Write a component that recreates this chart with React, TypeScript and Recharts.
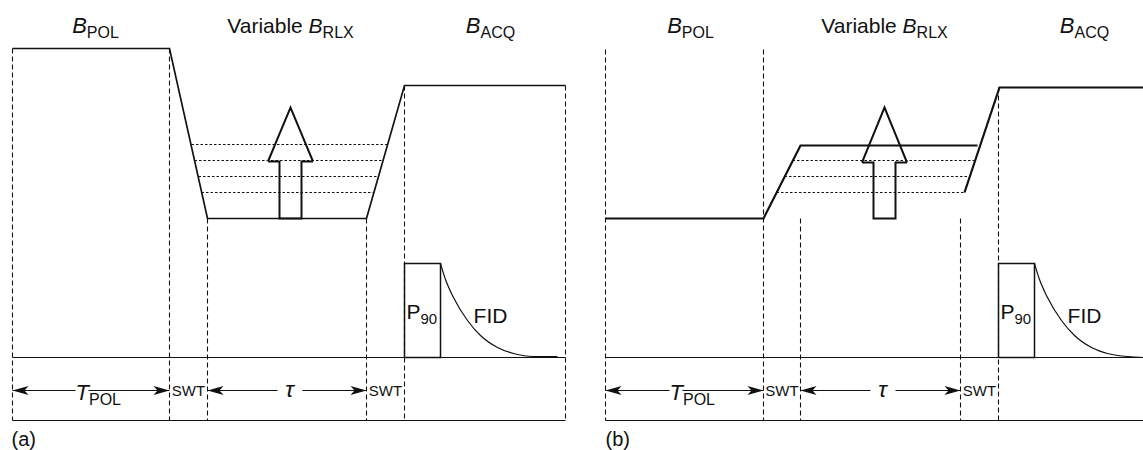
import React from "react";
import { ComposedChart, Line, Area, Scatter, XAxis, YAxis } from "recharts";

// time axis runs left to right, level axis runs top to bottom (reversed)
const W = 1143;
const H = 450;

// field waveform, panel (a)
const fieldA = [
    { x: 12, y: 48 },
    { x: 169, y: 48 },
    { x: 207, y: 218 },
    { x: 366, y: 218 },
    { x: 404, y: 85 },
    { x: 565, y: 85 },
];
// field waveform, panel (b): rise to the top relaxation level, then the ramp to B_ACQ
const fieldB1 = [
    { x: 605, y: 218 },
    { x: 763, y: 218 },
    { x: 800, y: 145 },
    { x: 977, y: 145 },
];
const fieldB2 = [
    { x: 964, y: 192 },
    { x: 999, y: 87 },
    { x: 1143, y: 87 },
];

// intermediate (dotted) relaxation levels
const dottedA = [
    { y: 144, from: 191, to: 387 },
    { y: 160, from: 194, to: 383 },
    { y: 176, from: 198, to: 378 },
    { y: 192, from: 201, to: 373 },
];
const dottedB = [
    { y: 160, from: 792, to: 974 },
    { y: 176, from: 784, to: 969 },
    { y: 192, from: 776, to: 964 },
];

// dashed timing markers
const dashedA = [
    { x: 12, top: 48 },
    { x: 169, top: 48 },
    { x: 207, top: 218 },
    { x: 366, top: 218 },
    { x: 404, top: 85 },
    { x: 565, top: 85 },
];
const dashedB = [
    { x: 605, top: 49 },
    { x: 763, top: 49 },
    { x: 800, top: 218 },
    { x: 960, top: 218 },
    { x: 998, top: 87 },
];
const dashBottom = 420;

// baseline / bottom rule spans
const spans = [
    { from: 12, to: 565 },
    { from: 605, to: 1143 },
];
const baselineY = 357;
const bottomY = 420;

// P90 pulses
const pulses = [
    { from: 404, to: 440, top: 263 },
    { from: 998, to: 1034, top: 263 },
];

// FID decays
const fidA = [
    { x: 440, y: 263 }, { x: 445, y: 279 }, { x: 453, y: 297 }, { x: 467, y: 320 },
    { x: 480, y: 335 }, { x: 497, y: 347 }, { x: 513, y: 353 }, { x: 533, y: 356 }, { x: 557, y: 356 },
];
const fidB = [
    { x: 1034, y: 263 }, { x: 1039, y: 279 }, { x: 1047, y: 297 }, { x: 1061, y: 320 },
    { x: 1074, y: 335 }, { x: 1091, y: 347 }, { x: 1107, y: 353 }, { x: 1127, y: 356 }, { x: 1143, y: 357 },
];

// big hollow "variable" arrows
const bigArrows = [
    { tipX: 290, tipY: 107, headBase: 161, headHalf: 22.5, shaftHalf: 11, bottom: 218 },
    { tipX: 884, tipY: 107, headBase: 162, headHalf: 22.5, shaftHalf: 11, bottom: 218 },
];

// interval arrows on the timing row
const rowY = 390;
const intervalLines = [
    { from: 12, to: 75 }, { from: 88, to: 169 },
    { from: 207, to: 277 }, { from: 302, to: 366 },
    { from: 605, to: 669 }, { from: 682, to: 763 },
    { from: 800, to: 870 }, { from: 895, to: 960 },
];
const arrowHeads = [
    { x: 12, y: rowY, dir: -1 }, { x: 169, y: rowY, dir: 1 },
    { x: 207, y: rowY, dir: -1 }, { x: 366, y: rowY, dir: 1 },
    { x: 605, y: rowY, dir: -1 }, { x: 763, y: rowY, dir: 1 },
    { x: 800, y: rowY, dir: -1 }, { x: 960, y: rowY, dir: 1 },
];

// text labels
const labels = [
    { x: 95, y: 32, main: "B", sub: "POL", italic: true, size: 22, subSize: 16, anchor: "middle" },
    { x: 290, y: 32, pre: "Variable ", main: "B", sub: "RLX", italic: true, size: 21, subSize: 16, anchor: "middle" },
    { x: 490, y: 32, main: "B", sub: "ACQ", italic: true, size: 22, subSize: 16, anchor: "middle" },
    { x: 690, y: 32, main: "B", sub: "POL", italic: true, size: 22, subSize: 16, anchor: "middle" },
    { x: 884, y: 32, pre: "Variable ", main: "B", sub: "RLX", italic: true, size: 21, subSize: 16, anchor: "middle" },
    { x: 1084, y: 32, main: "B", sub: "ACQ", italic: true, size: 22, subSize: 16, anchor: "middle" },
    { x: 75, y: 399, main: "T", sub: "POL", italic: true, size: 22, subSize: 16, anchor: "start" },
    { x: 669, y: 399, main: "T", sub: "POL", italic: true, size: 22, subSize: 16, anchor: "start" },
    { x: 289, y: 396, main: "τ", italic: true, size: 23, anchor: "middle" },
    { x: 882, y: 396, main: "τ", italic: true, size: 23, anchor: "middle" },
    { x: 188, y: 395, main: "SWT", size: 15, anchor: "middle" },
    { x: 385, y: 395, main: "SWT", size: 15, anchor: "middle" },
    { x: 781.5, y: 395, main: "SWT", size: 15, anchor: "middle" },
    { x: 979, y: 395, main: "SWT", size: 15, anchor: "middle" },
    { x: 406, y: 318, main: "P", sub: "90", size: 21, subSize: 15, anchor: "start" },
    { x: 1000, y: 318, main: "P", sub: "90", size: 21, subSize: 15, anchor: "start" },
    { x: 490, y: 322, main: "FID", size: 21, anchor: "middle" },
    { x: 1084, y: 322, main: "FID", size: 21, anchor: "middle" },
    { x: 11, y: 445, main: "(a)", size: 20, anchor: "start" },
    { x: 605, y: 445, main: "(b)", size: 20, anchor: "start" },
];

const INK = "#111111";
const FONT = "'Liberation Sans', Arial, Helvetica, sans-serif";

function arrowPoly(a: typeof bigArrows[number]) {
    const slope = (a.headBase - a.tipY) / a.headHalf;
    const yS = a.tipY + slope * a.shaftHalf;
    return [
        { x: a.tipX - a.headHalf, v: [a.headBase, a.headBase] },
        { x: a.tipX - a.shaftHalf, v: [a.headBase, yS] },
        { x: a.tipX - a.shaftHalf, v: [a.bottom, yS] },
        { x: a.tipX, v: [a.bottom, a.tipY] },
        { x: a.tipX + a.shaftHalf, v: [a.bottom, yS] },
        { x: a.tipX + a.shaftHalf, v: [a.headBase, yS] },
        { x: a.tipX + a.headHalf, v: [a.headBase, a.headBase] },
    ];
}

const HeadShape = (props: any) => {
    const { cx, cy, payload } = props;
    const d = payload.dir;
    const path = `M${cx},${cy} L${cx - d * 16},${cy - 4.5} L${cx - d * 12},${cy} L${cx - d * 16},${cy + 4.5} Z`;
    return <path d={path} fill={INK} stroke="none" />;
};

const LabelShape = (props: any) => {
    const { cx, cy, payload } = props;
    return (
        <text x={cx} y={cy} textAnchor={payload.anchor} fontFamily={FONT} fontSize={payload.size} fill={INK}>
            {payload.pre && <tspan>{payload.pre}</tspan>}
            <tspan fontStyle={payload.italic ? "italic" : "normal"}>{payload.main}</tspan>
            {payload.sub && (
                <tspan fontSize={payload.subSize} dy={5}>
                    {payload.sub}
                </tspan>
            )}
        </text>
    );
};

const seg = (x1: number, y1: number, x2: number, y2: number) => [
    { x: x1, y: y1 },
    { x: x2, y: y2 },
];

export default function App() {
    const common = { dot: false, activeDot: false, isAnimationActive: false, legendType: "none" as const, stroke: INK };

    return (
        <div style={{ position: "absolute", left: 0, top: 0, background: "#fff", transform: "translate(0.5px, 0.5px)" }}>
            <ComposedChart width={W} height={H} margin={{ top: 0, right: 0, bottom: 0, left: 0 }}>
                <XAxis type="number" dataKey="x" domain={[0, W]} allowDataOverflow hide />
                <YAxis type="number" dataKey="y" domain={[0, H]} allowDataOverflow reversed hide />

                {/* dashed timing markers */}
                {[...dashedA, ...dashedB].map((d, i) => (
                    <Line key={`dash-${i}`} {...common} data={seg(d.x, d.top, d.x, dashBottom)} dataKey="y"
                        type="linear" strokeWidth={1.1} strokeDasharray="5 3" />
                ))}

                {/* intermediate relaxation levels */}
                {[...dottedA, ...dottedB].map((d, i) => (
                    <Line key={`dot-${i}`} {...common} data={seg(d.from, d.y, d.to, d.y)} dataKey="y"
                        type="linear" strokeWidth={1.2} strokeDasharray="2.5 2" />
                ))}

                {/* hollow arrows */}
                {bigArrows.map((a, i) => (
                    <Area key={`big-${i}`} data={arrowPoly(a)} dataKey="v" type="linear" stroke={INK}
                        strokeWidth={2} fill="#ffffff" fillOpacity={1} dot={false} activeDot={false}
                        isAnimationActive={false} legendType="none" />
                ))}

                {/* field waveforms */}
                <Line {...common} data={fieldA} dataKey="y" type="linear" strokeWidth={1.7} />
                <Line {...common} data={fieldB1} dataKey="y" type="linear" strokeWidth={2.2} />
                <Line {...common} data={fieldB2} dataKey="y" type="linear" strokeWidth={2.2} />

                {/* baseline and bottom rule */}
                {spans.map((s, i) => (
                    <Line key={`base-${i}`} {...common} data={seg(s.from, baselineY, s.to, baselineY)} dataKey="y"
                        type="linear" strokeWidth={1.2} />
                ))}
                {spans.map((s, i) => (
                    <Line key={`bot-${i}`} {...common} data={seg(s.from, bottomY, s.to, bottomY)} dataKey="y"
                        type="linear" strokeWidth={1.2} />
                ))}

                {/* P90 pulses */}
                {pulses.map((p, i) => (
                    <Line key={`pulse-${i}`} {...common}
                        data={[
                            { x: p.from, y: baselineY },
                            { x: p.from, y: p.top },
                            { x: p.to, y: p.top },
                            { x: p.to, y: baselineY },
                            { x: p.from, y: baselineY },
                        ]}
                        dataKey="y" type="linear" strokeWidth={1.5} />
                ))}

                {/* FID */}
                <Line {...common} data={fidA} dataKey="y" type="monotone" strokeWidth={1.2} />
                <Line {...common} data={fidB} dataKey="y" type="monotone" strokeWidth={1.2} />

                {/* interval arrows */}
                {intervalLines.map((l, i) => (
                    <Line key={`int-${i}`} {...common} data={seg(l.from, rowY, l.to, rowY)} dataKey="y"
                        type="linear" strokeWidth={1.2} />
                ))}
                <Scatter data={arrowHeads} dataKey="y" shape={HeadShape} isAnimationActive={false} legendType="none" />

                <Scatter data={labels} dataKey="y" shape={LabelShape} isAnimationActive={false} legendType="none" />
            </ComposedChart>
        </div>
    );
}
